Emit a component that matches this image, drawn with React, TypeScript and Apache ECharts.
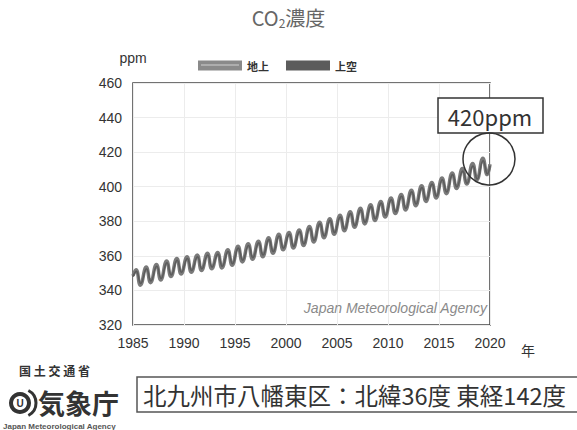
import React, { useEffect, useRef } from "react";
import * as echarts from "echarts";

// Years of the record (each year contributes a spring peak and a late-summer trough)
const years = [
  1985, 1986, 1987, 1988, 1989, 1990, 1991, 1992, 1993, 1994,
  1995, 1996, 1997, 1998, 1999, 2000, 2001, 2002, 2003, 2004,
  2005, 2006, 2007, 2008, 2009, 2010, 2011, 2012, 2013, 2014,
  2015, 2016, 2017, 2018, 2019,
];

// 地上 (ground) seasonal peaks / troughs, ppm
const groundPeaks = [
  352.0, 353.5, 355.0, 357.0, 358.5, 359.5, 360.5, 361.5, 362.0, 363.5,
  365.5, 367.0, 368.5, 370.5, 372.5, 373.5, 375.0, 377.0, 379.5, 381.5,
  383.5, 385.5, 387.5, 389.5, 391.5, 393.5, 395.5, 398.0, 400.5, 402.5,
  405.0, 408.0, 410.5, 413.5, 416.5,
];
const groundTroughs = [
  343.0, 344.5, 346.0, 348.0, 349.5, 350.5, 351.5, 352.5, 353.0, 354.5,
  356.5, 358.0, 359.5, 361.5, 363.5, 364.5, 366.0, 368.0, 370.5, 372.5,
  374.5, 376.5, 378.5, 380.5, 382.5, 384.5, 386.5, 389.0, 391.5, 393.5,
  396.0, 399.0, 401.5, 404.0, 407.0,
];
const groundStart = [1985.0, 348.5];
const groundEnd = [2020.0, 413.0];

// 上空 (upper air) seasonal peaks / troughs, ppm
const upperPeaks = [
  351.0, 352.5, 354.0, 356.0, 357.5, 358.5, 359.5, 360.5, 361.0, 362.5,
  364.5, 366.0, 367.5, 369.5, 371.5, 372.5, 374.0, 376.0, 378.5, 380.5,
  382.5, 384.5, 386.5, 388.5, 390.5, 392.5, 394.5, 397.0, 399.5, 401.5,
  404.0, 407.0, 409.0, 412.0, 415.0,
];
const upperTroughs = [
  344.0, 345.5, 347.0, 349.0, 350.5, 351.5, 352.5, 353.5, 354.0, 355.5,
  357.5, 359.0, 360.5, 362.5, 364.5, 365.5, 367.0, 369.0, 371.5, 373.5,
  375.5, 377.5, 379.5, 381.5, 383.5, 385.5, 387.5, 390.0, 392.5, 394.5,
  397.0, 400.0, 402.0, 404.5, 407.5,
];
const upperStart = [1985.0, 348.0];
const upperEnd = [2020.0, 412.0];

const xTicks = { min: 1985, max: 2020, interval: 5 };
const yTicks = { min: 320, max: 460, interval: 20 };

function buildSeries(start: number[], peaks: number[], troughs: number[], end: number[], peakPos: number, troughPos: number) {
  const out: number[][] = [start];
  years.forEach((y, i) => {
    out.push([y + peakPos, peaks[i]]);
    out.push([y + troughPos, troughs[i]]);
  });
  out.push(end);
  return out;
}

export default function App() {
  const ref = useRef<HTMLDivElement>(null);
  useEffect(() => {
    if (!ref.current) return;
    const chart = echarts.init(ref.current, undefined, { renderer: "svg" });
    const ground = buildSeries(groundStart, groundPeaks, groundTroughs, groundEnd, 0.3, 0.72);
    const upper = buildSeries(upperStart, upperPeaks, upperTroughs, upperEnd, 0.33, 0.75);
    const font = "'Liberation Sans', Arial, sans-serif";
    const jp = "'Noto Sans CJK JP', sans-serif";
    chart.setOption({
      animation: false,
      backgroundColor: "#ffffff",
      grid: {
        left: 133, right: 87, top: 83, bottom: 105,
        show: true, borderColor: "#444", borderWidth: 1.5, backgroundColor: "transparent",
      },
      legend: {
        data: ["地上", "上空"],
        left: 198, top: 60, padding: 0,
        itemWidth: 44, itemHeight: 10, itemGap: 17,
        icon: "rect",
        textStyle: { fontSize: 11, fontWeight: "bold", color: "#333", fontFamily: jp, lineHeight: 10 },
      },
      xAxis: {
        type: "value", ...xTicks,
        axisLine: { show: false }, axisTick: { show: false },
        axisLabel: { fontSize: 14, color: "#333", fontFamily: font, margin: 11, formatter: (v: number) => String(v) },
        splitLine: { show: true, lineStyle: { color: "#ececec", width: 1 } },
      },
      yAxis: {
        type: "value", ...yTicks,
        name: "ppm", nameGap: 18,
        nameTextStyle: { fontSize: 14, color: "#333", fontFamily: font },
        axisLine: { show: false }, axisTick: { show: false },
        axisLabel: { fontSize: 14, color: "#333", fontFamily: font, margin: 11 },
        splitLine: { show: true, lineStyle: { color: "#ececec", width: 1 } },
      },
      series: [
        {
          name: "地上", type: "line", data: ground, smooth: 0.5, showSymbol: false,
          color: "#8a8a8a",
          lineStyle: { color: "#7a7a7a", width: 3.5 },
          z: 2,
        },
        {
          name: "上空", type: "line", data: upper, smooth: 0.5, showSymbol: false,
          color: "#5c5c5c",
          lineStyle: { color: "#5c5c5c", width: 1.6 },
          z: 3,
        },
      ],
      graphic: [
        // title
        {
          type: "text", left: "center", top: 7,
          style: {
            text: "{a|CO}{s|2}{a|濃度}",
            rich: {
              a: { fontSize: 20, fill: "#666", fontFamily: jp },
              s: { fontSize: 12, fill: "#666", fontFamily: jp, padding: [12, 0, 0, 0] },
            },
          },
        },
        // legend stripe highlight on 地上 icon
        { type: "line", shape: { x1: 201, y1: 65, x2: 239, y2: 65 }, style: { stroke: "#d0d0d0", lineWidth: 1 }, z: 100 },
        { type: "text", x: 528, y: 350, style: { text: "年", fontSize: 14, fill: "#333", fontFamily: jp, textAlign: "center", textVerticalAlign: "middle" } },
        {
          type: "text", x: 487, y: 308,
          style: { text: "Japan Meteorological Agency", fontSize: 14, fontStyle: "italic", fill: "#8a8a8a", fontFamily: font, textAlign: "right", textVerticalAlign: "middle" },
          z: 50,
        },
        // 420ppm callout
        { type: "rect", shape: { x: 438, y: 98, width: 105, height: 35 }, style: { fill: "#fff", stroke: "#333", lineWidth: 1.5 }, z: 60 },
        { type: "text", x: 490, y: 116, style: { text: "420ppm", fontSize: 22, fill: "#333", fontFamily: jp, textAlign: "center", textVerticalAlign: "middle" }, z: 61 },
        { type: "circle", shape: { cx: 489, cy: 159, r: 26 }, style: { fill: "none", stroke: "#333", lineWidth: 1.5 }, z: 60 },
        // ministry / agency marks
        { type: "text", x: 19, y: 370, style: { text: "国 土 交 通 省", fontSize: 12, fontWeight: "bold", fill: "#333", fontFamily: jp, textVerticalAlign: "middle" } },
        { type: "circle", shape: { cx: 20, cy: 403, r: 11 }, style: { fill: "#333" } },
        { type: "circle", shape: { cx: 20, cy: 403, r: 7 }, style: { fill: "#fff" } },
        { type: "text", x: 20, y: 403, style: { text: "U", fontSize: 10, fontWeight: "bold", fill: "#333", fontFamily: font, textAlign: "center", textVerticalAlign: "middle" } },
        { type: "arc", shape: { cx: 22, cy: 403, r: 14, startAngle: -1.1, endAngle: 1.1 }, style: { stroke: "#333", lineWidth: 3, fill: "none" } },
        { type: "text", x: 38, y: 402, style: { text: "気象庁", fontSize: 27, fontWeight: "bold", fill: "#333", fontFamily: jp, textVerticalAlign: "middle", lineHeight: 27 } },
        { type: "text", x: 3, y: 426, style: { text: "Japan Meteorological Agency", fontSize: 8, fontWeight: "bold", fill: "#555", fontFamily: font, textVerticalAlign: "middle", lineHeight: 8 } },
        // location box
        { type: "rect", shape: { x: 137, y: 377, width: 445, height: 35 }, style: { fill: "#fff", stroke: "#555", lineWidth: 1.5 } },
        { type: "text", x: 143, y: 395, style: { text: "北九州市八幡東区：北緯36度 東経142度", fontSize: 23.5, fill: "#333", fontFamily: jp, textVerticalAlign: "middle" } },
      ],
    });
    return () => chart.dispose();
  }, []);
  return (
    <div
      ref={ref}
      style={{ position: "fixed", left: 0, top: 0, width: 577, height: 430, background: "#fff" }}
    />
  );
}
